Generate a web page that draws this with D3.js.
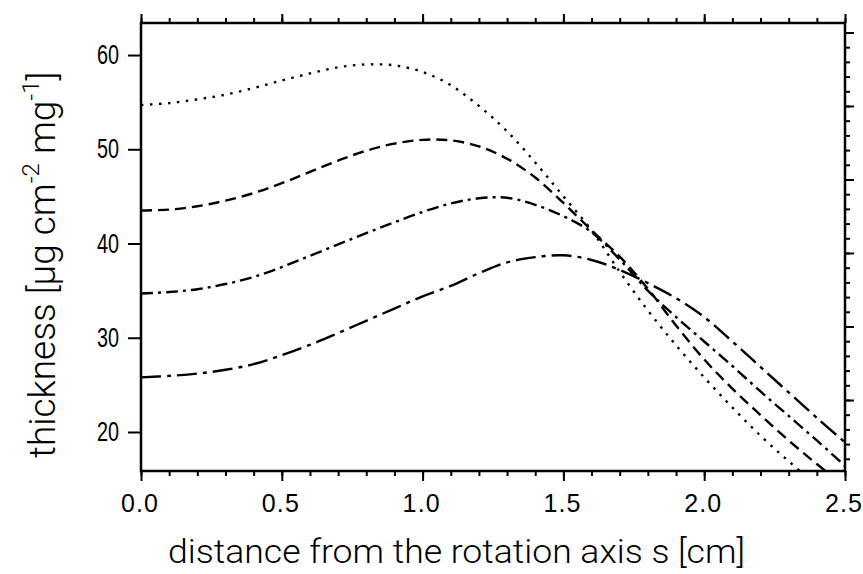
<!DOCTYPE html>
<html>
<head>
<meta charset="utf-8">
<script src="https://cdn.jsdelivr.net/npm/d3@7/dist/d3.min.js"></script>
<style>
  body { margin: 0; background: #fff; }
</style>
</head>
<body>
<script>
// distance from rotation axis s [cm]
const sValues = [0.0, 0.1, 0.2, 0.3, 0.4, 0.5, 0.6, 0.7, 0.8, 0.9, 1.0, 1.1, 1.2,
  1.3, 1.4, 1.5, 1.6, 1.7, 1.8, 1.9, 2.0, 2.1, 2.2, 2.3, 2.4, 2.5]

// thickness [ug cm-2 mg-1], one array per curve
const dottedCurve = [54.7, 54.9, 55.3, 55.8, 56.5, 57.3, 58.05, 58.7, 59.0, 58.9, 58.2, 56.8, 54.6,
  51.9, 48.6, 45.0, 41.4, 37.0, 32.9, 29.2, 25.8, 22.6, 19.6, 16.9, 14.3, 11.8]
const dashedCurve = [43.5, 43.6, 43.95, 44.55, 45.35, 46.4, 47.6, 48.8, 49.85, 50.6, 51.0, 50.95, 50.3,
  49.0, 47.0, 44.3, 41.4, 38.6, 35.2, 31.3, 27.7, 24.6, 21.8, 19.1, 16.6, 14.2]
const dashDotCurve = [34.7, 34.85, 35.15, 35.7, 36.45, 37.5, 38.7, 39.9, 41.1, 42.25, 43.35, 44.25, 44.8,
  44.85, 44.1, 42.9, 41.2, 38.3, 35.0, 32.2, 29.6, 27.0, 24.3, 21.7, 19.1, 16.4]
const longDashDotCurve = [25.8, 25.95, 26.2, 26.6, 27.2, 28.15, 29.25, 30.5, 31.8, 33.1, 34.4, 35.5, 36.85,
  38.0, 38.55, 38.75, 38.25, 37.2, 35.8, 34.2, 32.2, 29.6, 26.9, 24.2, 21.5, 18.9]

const xMajorTicks = [0.0, 0.5, 1.0, 1.5, 2.0, 2.5]
const xMinorTicks = d3.range(0, 26).map(i => i / 10)
const yMajorTicks = [20, 30, 40, 50, 60]
const rightMajorTicks = [20, 30, 40, 50, 60, 70]
const rightMinorTicks = d3.range(12, 72, 2)

const width = 863
const height = 574
const margin = { top: 23, right: 18, bottom: 103, left: 141 }
const innerW = width - margin.left - margin.right
const innerH = height - margin.top - margin.bottom

const x = d3.scaleLinear().domain([0, 2.5]).range([0, innerW])
const y = d3.scaleLinear().domain([15.86, 63.4]).range([innerH, 0])
const yRight = d3.scaleLinear().domain([10.34, 71.29]).range([innerH, 0])

const svg = d3.select('body').append('svg')
  .attr('xmlns', 'http://www.w3.org/2000/svg')
  .attr('width', width)
  .attr('height', height)
  .style('font-family', 'Roboto, sans-serif')

svg.append('rect').attr('width', width).attr('height', height).attr('fill', '#fff')

const g = svg.append('g').attr('transform', `translate(${margin.left},${margin.top})`)

g.append('defs').append('clipPath').attr('id', 'plotClip')
  .append('rect').attr('width', innerW).attr('height', innerH)

// ticks
function styleAxis (sel) {
  sel.select('.domain').remove()
  sel.selectAll('line').attr('stroke', '#000').attr('stroke-width', 2)
}

g.append('g').attr('transform', `translate(0,${innerH})`)
  .call(d3.axisBottom(x).tickValues(xMinorTicks).tickSize(5).tickFormat(''))
  .call(styleAxis)
const xAxis = g.append('g').attr('transform', `translate(0,${innerH})`)
  .call(d3.axisBottom(x).tickValues(xMajorTicks).tickSize(10).tickPadding(13)
    .tickFormat(d3.format('.1f')))
  .call(styleAxis)
xAxis.selectAll('text')
  .attr('font-size', 25)
  .attr('font-weight', 400)
  .attr('fill', '#000')
  .attr('textLength', 37)
  .attr('lengthAdjust', 'spacing')
  .attr('dx', -2)

g.append('g')
  .call(d3.axisTop(x).tickValues(xMinorTicks).tickSize(5).tickFormat(''))
  .call(styleAxis)
g.append('g')
  .call(d3.axisTop(x).tickValues(xMajorTicks).tickSize(9).tickFormat(''))
  .call(styleAxis)

const yAxis = g.append('g')
  .call(d3.axisLeft(y).tickValues(yMajorTicks).tickSize(13).tickPadding(9)
    .tickFormat(d3.format('d')))
  .call(styleAxis)
yAxis.selectAll('text')
  .attr('font-size', 27)
  .attr('font-weight', 300)
  .attr('fill', '#000')
  .attr('textLength', 22)
  .attr('lengthAdjust', 'spacingAndGlyphs')

g.append('g').attr('transform', `translate(${innerW},0)`)
  .call(d3.axisRight(yRight).tickValues(rightMinorTicks).tickSize(5).tickFormat(''))
  .call(styleAxis)
g.append('g').attr('transform', `translate(${innerW},0)`)
  .call(d3.axisRight(yRight).tickValues(rightMajorTicks).tickSize(9).tickFormat(''))
  .call(styleAxis)

// frame
g.append('rect')
  .attr('width', innerW).attr('height', innerH)
  .attr('fill', 'none').attr('stroke', '#000').attr('stroke-width', 2.5)

// curves
const curves = [
  { values: dottedCurve, dash: '2.5,6.5' },
  { values: dashedCurve, dash: '11,6' },
  { values: dashDotCurve, dash: '12,5,3,5' },
  { values: longDashDotCurve, dash: '20,6,4,6' }
]

const line = d3.line()
  .x(d => x(d[0]))
  .y(d => y(d[1]))
  .curve(d3.curveCatmullRom)

g.append('g').attr('clip-path', 'url(#plotClip)')
  .selectAll('path')
  .data(curves)
  .enter().append('path')
  .attr('d', c => line(sValues.map((s, i) => [s, c.values[i]])))
  .attr('fill', 'none')
  .attr('stroke', '#000')
  .attr('stroke-width', 2.4)
  .attr('stroke-dasharray', c => c.dash)

// axis titles
svg.append('text')
  .attr('x', 168).attr('y', 563)
  .attr('font-size', 33).attr('font-weight', 300)
  .attr('fill', '#000')
  .attr('textLength', 577)
  .attr('lengthAdjust', 'spacingAndGlyphs')
  .text('distance from the rotation axis s [cm]')

const yTitle = svg.append('text')
  .attr('transform', 'translate(55,458) rotate(-90)')
  .attr('font-size', 37).attr('font-weight', 300)
  .attr('fill', '#000')
yTitle.append('tspan').text('thickness [μg cm')
yTitle.append('tspan').attr('font-size', 24).attr('dy', -16).text('-2')
yTitle.append('tspan').attr('dy', 16).text(' mg')
yTitle.append('tspan').attr('font-size', 24).attr('dy', -16).text('-1')
yTitle.append('tspan').attr('dy', 16).text(']')
</script>
</body>
</html>
